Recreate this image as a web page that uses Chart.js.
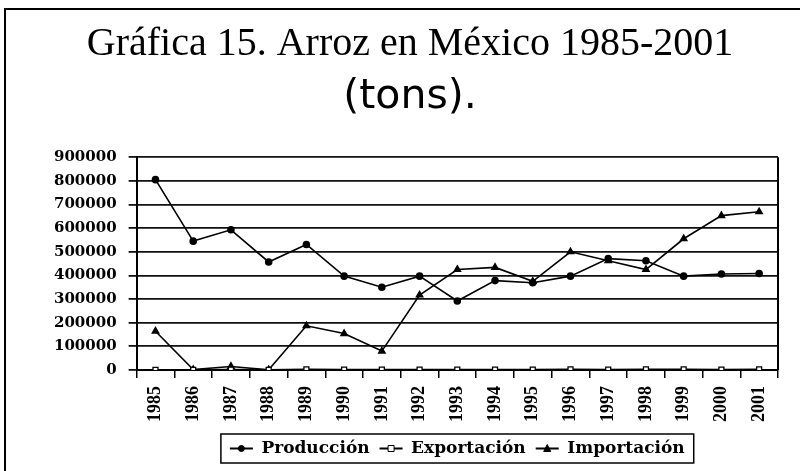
<!DOCTYPE html>
<html>
<head>
<meta charset="utf-8">
<script src="https://cdn.jsdelivr.net/npm/chart.js@4/dist/chart.umd.min.js"></script>
<style>
  html, body { margin: 0; padding: 0; background: #fff; }
  canvas { display: block; }
</style>
</head>
<body>
<canvas id="arroz" width="800" height="471"></canvas>
<script>
// years on the x axis
const years = ['1985', '1986', '1987', '1988', '1989', '1990', '1991', '1992', '1993',
  '1994', '1995', '1996', '1997', '1998', '1999', '2000', '2001'];

// tons
const produccion = [805000, 545000, 593000, 457000, 531000, 397000, 350000, 397000, 292000,
  378000, 369000, 397000, 471000, 462000, 397000, 406000, 408000];
const exportacion = [1000, 500, 1500, 500, 2500, 2000, 1500, 2000, 1500,
  2000, 1500, 3000, 2000, 2500, 3000, 1500, 2500];
const importacion = [164000, 2000, 15000, 1000, 187000, 154000, 80000, 317000, 425000,
  434000, 375000, 500000, 462000, 425000, 555000, 653000, 669000];

const yMax = 900000;
const yStep = 100000;

// frame, plot border, legend box and legend markers
const extras = {
  id: 'extras',
  beforeDraw(chart) {
    const ctx = chart.ctx;
    ctx.save();
    ctx.fillStyle = '#fff';
    ctx.fillRect(0, 0, chart.width, chart.height);
    ctx.restore();
  },
  afterLayout(chart) {
    // legend is centred on the plot, not on the canvas
    const lg = chart.legend;
    const dx = (chart.chartArea.left + chart.chartArea.right) / 2 - (lg.left + lg.right) / 2;
    lg.left += dx;
    lg.right += dx;
  },
  afterDraw(chart) {
    const ctx = chart.ctx;
    const area = chart.chartArea;
    ctx.save();
    ctx.strokeStyle = '#000';
    // outer frame (left and top edges)
    ctx.lineWidth = 2;
    ctx.beginPath();
    ctx.moveTo(5, chart.height);
    ctx.lineTo(5, 9);
    ctx.lineTo(chart.width, 9);
    ctx.stroke();
    // right edge of plot
    ctx.beginPath();
    ctx.moveTo(area.right, area.top);
    ctx.lineTo(area.right, area.bottom);
    ctx.stroke();

    // legend markers and box
    const boxes = chart.legend.legendHitBoxes;
    const bw = chart.options.plugins.legend.labels.boxWidth;
    let l = Infinity, r = -Infinity, t = Infinity, b = -Infinity;
    boxes.forEach((hb, i) => {
      const ds = chart.data.datasets[i];
      const cx = hb.left + bw / 2;
      const cy = hb.top + hb.height / 2;
      drawMarker(ctx, ds.pointStyle, cx, cy, 3, ds.pointBackgroundColor);
      l = Math.min(l, hb.left); r = Math.max(r, hb.left + hb.width);
      t = Math.min(t, hb.top); b = Math.max(b, hb.top + hb.height);
    });
    ctx.lineWidth = 1.5;
    ctx.strokeRect(l - 9, t - 6, r - l + 18, b - t + 12);
    ctx.restore();
  }
};

function drawMarker(ctx, style, x, y, rad, fill) {
  ctx.save();
  ctx.fillStyle = fill;
  ctx.strokeStyle = '#000';
  ctx.lineWidth = 1;
  ctx.beginPath();
  if (style === 'rect') {
    ctx.rect(x - rad, y - rad, rad * 2, rad * 2);
  } else if (style === 'triangle') {
    ctx.moveTo(x, y - rad - 1);
    ctx.lineTo(x + rad + 0.5, y + rad);
    ctx.lineTo(x - rad - 0.5, y + rad);
    ctx.closePath();
  } else {
    ctx.arc(x, y, rad, 0, Math.PI * 2);
  }
  ctx.fill();
  ctx.stroke();
  ctx.restore();
}

new Chart(document.getElementById('arroz'), {
  type: 'line',
  data: {
    labels: years,
    datasets: [
      {
        label: 'Producción',
        data: produccion,
        borderColor: '#000',
        backgroundColor: '#000',
        pointStyle: 'circle',
        pointBackgroundColor: '#000',
        pointBorderColor: '#000',
        pointRadius: 3,
        borderWidth: 1.6,
        tension: 0
      },
      {
        label: 'Exportación',
        data: exportacion,
        borderColor: '#000',
        backgroundColor: '#fff',
        pointStyle: 'rect',
        pointBackgroundColor: '#fff',
        pointBorderColor: '#000',
        pointBorderWidth: 1.3,
        pointRadius: 3.5,
        borderWidth: 1.6,
        tension: 0
      },
      {
        label: 'Importación',
        data: importacion,
        borderColor: '#000',
        backgroundColor: '#000',
        pointStyle: 'triangle',
        pointBackgroundColor: '#000',
        pointBorderColor: '#000',
        pointRadius: 3.5,
        borderWidth: 1.6,
        tension: 0
      }
    ]
  },
  options: {
    responsive: false,
    animation: false,
    layout: {
      padding: { left: 42, right: 22, top: 0, bottom: 4 }
    },
    plugins: {
      title: {
        display: true,
        text: 'Gráfica 15. Arroz en México 1985-2001',
        color: '#000',
        font: { family: '"Liberation Serif", "Times New Roman", serif', size: 40, weight: 'normal', lineHeight: 1.2 },
        padding: { top: 20, bottom: 0 }
      },
      subtitle: {
        display: true,
        text: '(tons).',
        color: '#000',
        font: { family: '"DejaVu Sans", Verdana, sans-serif', size: 41, weight: 'normal', lineHeight: 1.2 },
        padding: { top: 5, bottom: 35 }
      },
      legend: {
        position: 'bottom',
        labels: {
          color: '#000',
          font: { family: '"DejaVu Serif", serif', size: 17, weight: 'bold' },
          boxWidth: 23,
          boxHeight: 2,
          padding: 10,
          generateLabels(chart) {
            return Chart.defaults.plugins.legend.labels.generateLabels(chart).map(item => ({
              ...item, fillStyle: '#000', strokeStyle: '#000', lineWidth: 0
            }));
          }
        }
      },
      tooltip: { enabled: false }
    },
    scales: {
      x: {
        offset: true,
        grid: {
          display: true,
          offset: true,
          drawOnChartArea: false,
          drawTicks: true,
          tickLength: 8,
          color: '#000',
          lineWidth: 1.5
        },
        border: { display: true, color: '#000', width: 2 },
        ticks: {
          color: '#000',
          minRotation: 90,
          maxRotation: 90,
          padding: 8,
          font: { family: '"Liberation Serif", "Times New Roman", serif', size: 18, weight: 'bold' }
        }
      },
      y: {
        min: 0,
        max: yMax,
        grid: {
          color: '#111',
          lineWidth: 1.8,
          tickLength: 8
        },
        border: { display: true, color: '#000', width: 2 },
        ticks: {
          stepSize: yStep,
          color: '#000',
          padding: 12,
          font: { family: '"DejaVu Serif", serif', size: 15, weight: 'bold' },
          callback: value => String(value)
        }
      }
    }
  },
  plugins: [extras]
});
</script>
</body>
</html>
